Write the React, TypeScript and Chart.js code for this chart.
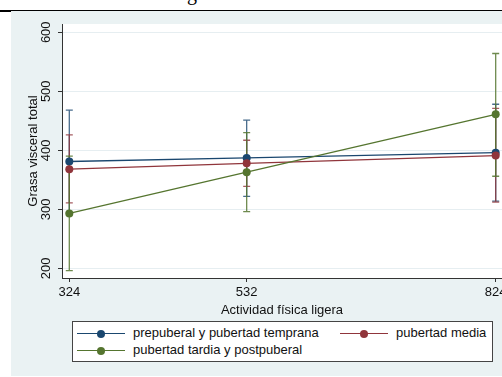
import React, { useEffect, useRef } from "react";
import { Chart, registerables } from "chart.js";

Chart.register(...registerables);

const FONT = "'Liberation Sans', Arial, Helvetica, sans-serif";

// Data
const xValues = [324, 532, 824];
const xTickValues = [324, 532, 824];
const yTickValues = [200, 300, 400, 500, 600];

const seriesNames = [
  "prepuberal y pubertad temprana",
  "pubertad media",
  "pubertad tardia y postpuberal",
];
const prepuberalMean = [381, 387, 396];
const prepuberalLow = [294, 322, 314];
const prepuberalHigh = [468, 451, 478];
const mediaMean = [368, 378, 391];
const mediaLow = [311, 339, 312];
const mediaHigh = [426, 417, 471];
const tardiaMean = [293, 363, 461];
const tardiaLow = [196, 296, 356];
const tardiaHigh = [390, 430, 564];

const COLORS = ["#1a476f", "#90353b", "#55752f"];
const CI_COLORS = ["rgba(26,71,111,0.8)", "rgba(144,53,59,0.8)", "rgba(85,117,47,0.85)"];

export default function App() {
  const ref = useRef<HTMLCanvasElement>(null);

  useEffect(() => {
    const canvas = ref.current;
    if (!canvas) return;
    const means = [prepuberalMean, mediaMean, tardiaMean];
    const lows = [prepuberalLow, mediaLow, tardiaLow];
    const highs = [prepuberalHigh, mediaHigh, tardiaHigh];

    const plotBg = {
      id: "plotBg",
      beforeDraw(chart: any) {
        const { ctx, chartArea: a } = chart;
        ctx.save();
        ctx.fillStyle = "#ffffff";
        ctx.fillRect(a.left, a.top, chart.width - a.left, a.bottom - a.top);
        ctx.restore();
      },
    };

    const ciPlugin = {
      id: "ciBars",
      beforeDatasetsDraw(chart: any) {
        const { ctx } = chart;
        const x = chart.scales.x;
        const y = chart.scales.y;
        ctx.save();
        for (let s = 0; s < 3; s++) {
          ctx.strokeStyle = CI_COLORS[s];
          ctx.lineWidth = 1.3;
          xValues.forEach((xv, i) => {
            const px = x.getPixelForValue(xv);
            const pl = y.getPixelForValue(lows[s][i]);
            const ph = y.getPixelForValue(highs[s][i]);
            ctx.beginPath();
            ctx.moveTo(px, pl);
            ctx.lineTo(px, ph);
            ctx.moveTo(px - 3.5, pl);
            ctx.lineTo(px + 3.5, pl);
            ctx.moveTo(px - 3.5, ph);
            ctx.lineTo(px + 3.5, ph);
            ctx.stroke();
          });
        }
        ctx.restore();
      },
    };

    const chart = new Chart(canvas, {
      type: "line",
      data: {
        datasets: seriesNames.map((name, s) => ({
          label: name,
          data: xValues.map((xv, i) => ({ x: xv, y: means[s][i] })),
          borderColor: COLORS[s],
          backgroundColor: COLORS[s],
          borderWidth: 1.3,
          pointRadius: 4,
          pointBorderWidth: 0,
          pointBackgroundColor: COLORS[s],
          order: 3 - s,
          tension: 0,
        })),
      },
      options: {
        responsive: false,
        animation: false,
        devicePixelRatio: 1,
        layout: { padding: { left: 0, top: 13, right: 69, bottom: 3 } },
        plugins: {
          legend: { display: false },
          tooltip: { enabled: false },
        },
        scales: {
          x: {
            type: "linear",
            min: 315.44,
            max: 831.4,
            afterBuildTicks(scale: any) {
              scale.ticks = xTickValues.map((v) => ({ value: v }));
            },
            afterFit(scale: any) {
              scale.height = 40;
            },
            grid: {
              drawOnChartArea: false,
              drawTicks: true,
              tickLength: 4,
              tickColor: "#333",
              color: "#333",
            },
            border: { display: true, color: "#333", width: 1 },
            ticks: {
              autoSkip: false,
              maxRotation: 0,
              padding: 3,
              color: "#111",
              font: { family: FONT, size: 13 },
              callback: (v: any) => String(v),
            },
            title: {
              display: true,
              text: "Actividad física ligera",
              color: "#111",
              font: { family: FONT, size: 13 },
              padding: { top: 0, bottom: 0 },
            },
          },
          y: {
            type: "linear",
            min: 183.6,
            max: 614,
            afterBuildTicks(scale: any) {
              scale.ticks = yTickValues.map((v) => ({ value: v }));
            },
            afterFit(scale: any) {
              scale.width = 51;
            },
            grid: {
              drawOnChartArea: true,
              drawTicks: true,
              tickLength: 4,
              color: "#e6eef1",
              tickColor: "#333",
              lineWidth: 1,
            },
            border: { display: true, color: "#333", width: 1 },
            ticks: {
              minRotation: 90,
              maxRotation: 90,
              crossAlign: "center",
              padding: 0.5,
              color: "#111",
              font: { family: FONT, size: 13 },
              callback: (v: any) => String(v),
            },
            title: {
              display: true,
              text: "Grasa visceral total",
              color: "#111",
              font: { family: FONT, size: 13 },
              padding: { top: 14.5, bottom: 0 },
            },
          },
        },
      },
      plugins: [plotBg, ciPlugin],
    } as any);

    return () => chart.destroy();
  }, []);

  const legendItem = (s: number, left: number, top: number) => (
    <div
      key={s}
      style={{ position: "absolute", left, top, height: 16, display: "block" }}
    >
      <div
        style={{
          position: "absolute",
          left: 0,
          top: 7,
          width: 48,
          height: 1.3,
          background: COLORS[s],
        }}
      />
      <div
        style={{
          position: "absolute",
          left: 20,
          top: 3.5,
          width: 8,
          height: 8,
          borderRadius: 4,
          background: COLORS[s],
        }}
      />
      <div
        style={{
          position: "absolute",
          left: 56,
          top: -1,
          whiteSpace: "nowrap",
          fontFamily: FONT,
          fontSize: 13,
          lineHeight: "16px",
          color: "#111",
        }}
      >
        {seriesNames[s]}
      </div>
    </div>
  );

  return (
    <div
      style={{
        position: "relative",
        width: 502,
        height: 377,
        overflow: "hidden",
        background: "#ffffff",
      }}
    >
      <style>{`body{margin:0;}`}</style>
      <div
        style={{
          position: "absolute",
          left: 187,
          top: -17,
          fontFamily: "'Liberation Serif', 'Times New Roman', serif",
          fontSize: 20,
          lineHeight: "20px",
          color: "#000",
        }}
      >
        g
      </div>
      <div style={{ position: "absolute", left: 0, top: 10, width: 502, height: 1, background: "#000" }} />
      <div style={{ position: "absolute", left: 0, top: 10, width: 11, height: 2, background: "#000" }} />
      <div
        style={{
          position: "absolute",
          left: 11,
          top: 11,
          width: 491,
          height: 365,
          background: "#eaf2f3",
        }}
      />
      <canvas
        ref={ref}
        width={560}
        height={310}
        style={{ position: "absolute", left: 11, top: 11, width: 560, height: 310 }}
      />
      <div
        style={{
          position: "absolute",
          left: 72,
          top: 321,
          width: 419,
          height: 39,
          border: "1px solid #444",
          background: "#ffffff",
        }}
      >
        {legendItem(0, 4, 4)}
        {legendItem(1, 267, 4)}
        {legendItem(2, 4, 21)}
      </div>
    </div>
  );
}
